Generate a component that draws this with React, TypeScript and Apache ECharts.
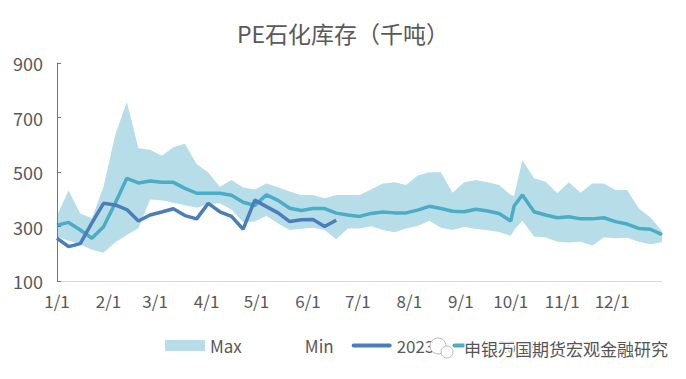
import React, { useEffect, useRef } from "react";
import * as echarts from "echarts";

const titleText = "PE石化库存（千吨）";

const dates = [
  "1/1", "1/8", "1/15", "1/22", "1/29", "2/5", "2/12", "2/19", "2/26", "3/5",
  "3/12", "3/19", "3/26", "4/2", "4/9", "4/16", "4/23", "4/30", "5/7", "5/14",
  "5/21", "5/28", "6/4", "6/11", "6/18", "6/25", "7/2", "7/9", "7/16", "7/23",
  "7/30", "8/6", "8/13", "8/20", "8/27", "9/3", "9/10", "9/17", "9/24", "10/1",
  "10/3", "10/8", "10/15", "10/22", "10/29", "11/5", "11/12", "11/19", "11/26", "12/3",
  "12/10", "12/17", "12/24", "12/31",
];

const maxValues = [
  340, 432, 348, 330, 446, 636, 757, 587, 582, 560,
  591, 604, 529, 498, 446, 471, 443, 436, 458, 444,
  428, 416, 416, 404, 416, 416, 416, 436, 458, 462,
  452, 487, 499, 499, 424, 462, 471, 462, 452, 416,
  412, 544, 477, 464, 422, 462, 424, 458, 458, 434,
  434, 367, 333, 284,
];

const minValues = [
  263, 248, 235, 215, 204, 241, 269, 294, 399, 396,
  387, 378, 369, 382, 385, 362, 316, 318, 339, 311,
  287, 292, 295, 287, 253, 293, 293, 301, 287, 279,
  293, 302, 321, 295, 287, 298, 291, 286, 280, 265,
  287, 321, 263, 260, 244, 241, 244, 230, 260, 257,
  259, 244, 235, 242,
];

const values2022 = [
  305, 315, 287, 257, 299, 385, 477, 460, 467, 462,
  462, 440, 422, 422, 422, 415, 389, 377, 416, 396,
  367, 359, 366, 366, 349, 342, 337, 348, 353, 350,
  350, 360, 374, 366, 356, 354, 363, 357, 348, 320,
  375, 416, 354, 342, 332, 336, 328, 328, 332, 318,
  309, 293, 290, 270,
];

const values2023 = [
  257, 226, 237, 313, 385, 379, 362, 320, 342, 353,
  365, 340, 328, 385, 354, 337, 290, 397, 373, 350,
  318, 325, 326, 300, 323,
];

const monthLabels = ["1/1", "2/1", "3/1", "4/1", "5/1", "6/1", "7/1", "8/1", "9/1", "10/1", "11/1", "12/1"];
const yTicks = { min: 100, max: 900, interval: 200 };
const watermarkText = "申银万国期货宏观金融研究";

const monthDays = [31, 28, 31, 30, 31, 30, 31, 31, 30, 31, 30, 31];
const monthStart = monthDays.map((_, i) => monthDays.slice(0, i).reduce((a, b) => a + b, 0));
const toDay = (s: string) => {
  const [m, d] = s.split("/").map(Number);
  return monthStart[m - 1] + d - 1;
};
const days = dates.map(toDay);
const labelDays = monthLabels.map(toDay);
const pairs = (vals: number[]) => vals.map((v, i) => [days[i], v]);

const BAND = "#B7DEE8";
const DARK = "#4A7EBB";
const TEAL = "#4BACC6";
const TEXT = "#595959";
const FONT = "'Noto Sans CJK SC', 'Noto Sans', sans-serif";
const LINE_ICON = "path://M2,0 L38,0 A2,2 0 0 1 38,4 L2,4 A2,2 0 0 1 2,0 Z";

export default function App() {
  const ref = useRef<HTMLDivElement>(null);
  useEffect(() => {
    if (!ref.current) return;
    const chart = echarts.init(ref.current, null, { renderer: "svg" });
    chart.setOption({
      animation: false,
      backgroundColor: "#fff",
      textStyle: { fontFamily: FONT },
      title: {
        text: titleText,
        left: "center",
        top: 16,
        textStyle: { fontSize: 23, fontWeight: "normal", color: TEXT, fontFamily: FONT },
      },
      grid: { left: 57, right: 24, top: 63, bottom: 98, containLabel: false },
      xAxis: {
        type: "value",
        min: 0,
        max: 364,
        z: 10,
        axisLine: { show: true, lineStyle: { color: "#D9D9D9", width: 1 } },
        axisTick: { show: false },
        splitLine: { show: false },
        axisLabel: {
          customValues: labelDays,
          formatter: (v: number) => {
            const idx = labelDays.indexOf(Math.round(v));
            return idx >= 0 ? monthLabels[idx] : "";
          },
          color: TEXT,
          fontSize: 17,
          margin: 11,
          fontFamily: FONT,
        },
      },
      yAxis: {
        type: "value",
        min: yTicks.min,
        max: yTicks.max,
        interval: yTicks.interval,
        z: 10,
        axisLine: { show: true, lineStyle: { color: DARK, width: 1 } },
        axisTick: { show: true, inside: true, length: 4, lineStyle: { color: DARK } },
        splitLine: { show: false },
        axisLabel: { color: TEXT, fontSize: 18, margin: 14, fontFamily: FONT },
      },
      legend: {
        left: 165,
        top: 337,
        padding: 0,
        itemWidth: 40,
        itemHeight: 11,
        itemGap: 18,
        textStyle: { color: TEXT, fontSize: 17, fontFamily: FONT },
        data: [
          { name: "Max", icon: "rect", itemStyle: { color: BAND, borderWidth: 0 } },
          { name: "Min", icon: "rect", itemStyle: { color: "#ffffff", borderWidth: 0 } },
          { name: "2023", icon: LINE_ICON, itemStyle: { color: DARK, borderWidth: 0 } },
          { name: "2022", icon: LINE_ICON, itemStyle: { color: TEAL, borderWidth: 0 } },
        ],
      },
      series: [
        {
          name: "Max",
          type: "line",
          data: pairs(maxValues),
          symbol: "none",
          z: 1,
          itemStyle: { color: BAND },
          lineStyle: { width: 0, opacity: 0 },
          areaStyle: { color: BAND, opacity: 1, origin: "start" },
        },
        {
          name: "Min",
          type: "line",
          data: pairs(minValues),
          symbol: "none",
          z: 2,
          itemStyle: { color: "#ffffff" },
          lineStyle: { width: 0, opacity: 0 },
          areaStyle: { color: "#ffffff", opacity: 1, origin: "start" },
        },
        {
          name: "2022",
          type: "line",
          data: pairs(values2022),
          symbol: "none",
          z: 3,
          itemStyle: { color: TEAL },
          lineStyle: { color: TEAL, width: 3.5 },
        },
        {
          name: "2023",
          type: "line",
          data: pairs(values2023),
          symbol: "none",
          z: 4,
          itemStyle: { color: DARK },
          lineStyle: { color: DARK, width: 3.5 },
        },
      ],
      graphic: [
        {
          type: "group",
          z: 100,
          children: [
            { type: "circle", shape: { cx: 438, cy: 346, r: 8 }, style: { fill: "#fff", stroke: "#bbb", lineWidth: 1 }, z: 100 },
            { type: "circle", shape: { cx: 447, cy: 352, r: 6 }, style: { fill: "#fff", stroke: "#bbb", lineWidth: 1 }, z: 101 },
            {
              type: "text",
              x: 464,
              y: 348,
              z: 102,
              style: {
                text: watermarkText,
                fill: "#555",
                font: `17px ${FONT}`,
                verticalAlign: "middle",
                stroke: "#fff",
                lineWidth: 3,
              },
            },
          ],
        },
      ],
    });
    return () => chart.dispose();
  }, []);
  return (
    <div
      ref={ref}
      style={{ position: "fixed", left: 0, top: 0, width: 686, height: 379, background: "#fff" }}
    />
  );
}
